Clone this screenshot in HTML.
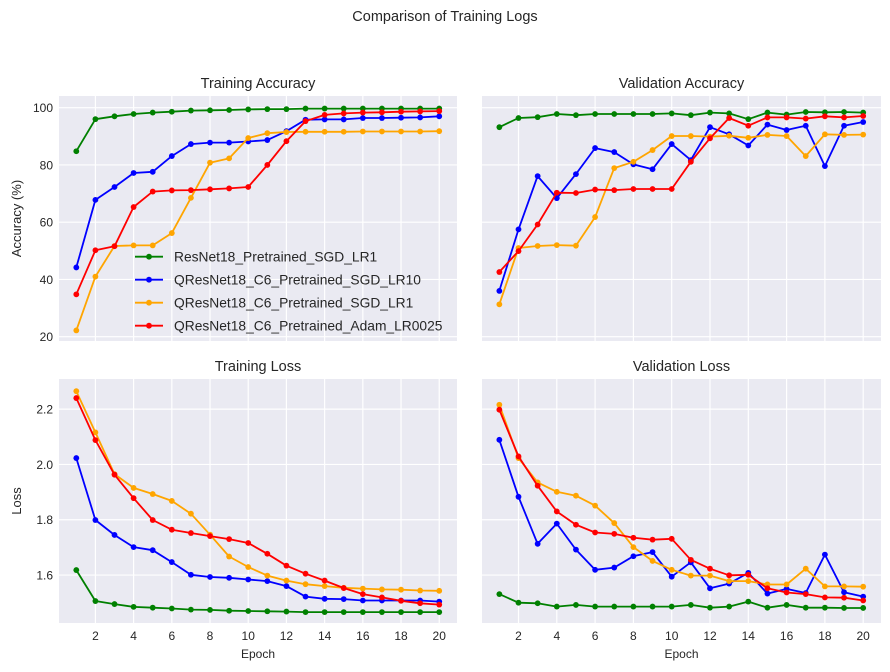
<!DOCTYPE html>
<html><head><meta charset="utf-8"><style>
body{margin:0;background:#fff;}
svg{display:block;font-family:"Liberation Sans","DejaVu Sans",sans-serif;}
</style></head><body>
<svg id="fig" width="890" height="672" viewBox="0 0 890 672">
<text x="445" y="21" text-anchor="middle" font-size="14.5" fill="#262626">Comparison of Training Logs</text>
</svg>
<script>
const epochs=[1,2,3,4,5,6,7,8,9,10,11,12,13,14,15,16,17,18,19,20];
const seriesNames=["ResNet18_Pretrained_SGD_LR1","QResNet18_C6_Pretrained_SGD_LR10","QResNet18_C6_Pretrained_SGD_LR1","QResNet18_C6_Pretrained_Adam_LR0025"];
const seriesColors=["green","blue","orange","red"];
const trainAccGreen=[84.8,96,97,97.8,98.3,98.6,99,99.1,99.2,99.4,99.5,99.5,99.7,99.7,99.7,99.7,99.7,99.7,99.7,99.7];
const trainAccBlue=[44.2,67.8,72.3,77.2,77.6,83.1,87.3,87.8,87.8,88.2,88.7,91.8,95.8,95.9,95.9,96.4,96.4,96.5,96.6,97];
const trainAccOrange=[22.2,41,51.7,51.9,51.9,56.2,68.5,80.8,82.3,89.4,91.1,91.5,91.6,91.6,91.6,91.7,91.7,91.7,91.7,91.8];
const trainAccRed=[34.8,50.2,51.6,65.3,70.7,71.1,71.2,71.5,71.8,72.3,80,88.3,95.3,97.5,98,98.3,98.4,98.6,98.7,98.8];
const valAccGreen=[93.2,96.4,96.7,97.8,97.4,97.8,97.8,97.8,97.8,98,97.4,98.3,98,96,98.3,97.6,98.5,98.4,98.5,98.3];
const valAccBlue=[36,57.5,76.1,68.4,76.8,85.9,84.5,80.2,78.5,87.3,81.7,93.2,90.7,86.8,94.1,92.2,93.7,79.6,93.7,95];
const valAccOrange=[31.3,51,51.7,52,51.8,61.8,78.9,81.1,85.2,90.1,90.1,89.9,90.2,89.5,90.5,90.1,83.1,90.7,90.5,90.6];
const valAccRed=[42.6,49.9,59.2,70.3,70.2,71.4,71.2,71.6,71.6,71.6,81.1,89.3,96.4,93.7,96.6,96.6,96.2,97,96.6,97.1];
const trainLossGreen=[1.618,1.506,1.495,1.485,1.482,1.479,1.475,1.474,1.471,1.470,1.469,1.468,1.466,1.466,1.466,1.466,1.466,1.466,1.466,1.466];
const trainLossBlue=[2.023,1.799,1.745,1.701,1.690,1.647,1.601,1.593,1.590,1.584,1.578,1.560,1.522,1.514,1.513,1.508,1.508,1.508,1.508,1.504];
const trainLossOrange=[2.265,2.116,1.965,1.915,1.893,1.868,1.822,1.746,1.667,1.629,1.598,1.580,1.567,1.560,1.554,1.551,1.548,1.547,1.544,1.543];
const trainLossRed=[2.24,2.088,1.963,1.878,1.799,1.764,1.752,1.741,1.730,1.716,1.677,1.634,1.605,1.580,1.553,1.531,1.519,1.507,1.498,1.493];
const valLossGreen=[1.531,1.500,1.498,1.486,1.492,1.486,1.486,1.486,1.486,1.486,1.492,1.482,1.486,1.504,1.482,1.492,1.482,1.482,1.481,1.481];
const valLossBlue=[2.089,1.883,1.713,1.786,1.692,1.619,1.627,1.668,1.683,1.594,1.646,1.552,1.569,1.608,1.533,1.550,1.535,1.674,1.538,1.522];
const valLossOrange=[2.216,2.023,1.935,1.901,1.887,1.851,1.788,1.701,1.651,1.619,1.598,1.598,1.578,1.578,1.566,1.566,1.623,1.559,1.559,1.558];
const valLossRed=[2.198,2.029,1.923,1.830,1.782,1.754,1.749,1.735,1.728,1.731,1.655,1.623,1.599,1.601,1.552,1.537,1.531,1.519,1.518,1.508];
const accTicks=[20,40,60,80,100];
const lossTicks=[1.6,1.8,2.0,2.2];
const epochTicks=[2,4,6,8,10,12,14,16,18,20];

const NS="http://www.w3.org/2000/svg";
const svg=document.getElementById('fig');
function mk(tag,attrs,parent){const e=document.createElementNS(NS,tag);for(const k in attrs)e.setAttribute(k,attrs[k]);(parent||svg).appendChild(e);return e;}

const panels=[
 {key:'training-accuracy',title:'Training Accuracy',x0:59,x1:457,y0:96,y1:341,ymin:18.5,ymax:104.09,ticks:accTicks,dec:0,showY:true,showX:false,ylabel:'Accuracy (%)',data:[trainAccGreen,trainAccBlue,trainAccOrange,trainAccRed]},
 {key:'validation-accuracy',title:'Validation Accuracy',x0:482,x1:881,y0:96,y1:341,ymin:18.5,ymax:104.09,ticks:accTicks,dec:0,showY:false,showX:false,data:[valAccGreen,valAccBlue,valAccOrange,valAccRed]},
 {key:'training-loss',title:'Training Loss',x0:59,x1:457,y0:379,y1:623,ymin:1.4266,ymax:2.309,ticks:lossTicks,dec:1,showY:true,showX:true,ylabel:'Loss',data:[trainLossGreen,trainLossBlue,trainLossOrange,trainLossRed]},
 {key:'validation-loss',title:'Validation Loss',x0:482,x1:881,y0:379,y1:623,ymin:1.4266,ymax:2.309,ticks:lossTicks,dec:1,showY:false,showX:true,data:[valLossGreen,valLossBlue,valLossOrange,valLossRed]}
];
panels.forEach(p=>{
 const g=mk('g',{});
 
 
 const xs=v=>p.x0+(v-0.094)/(20.93-0.094)*(p.x1-p.x0);
 const ys=v=>p.y1-(v-p.ymin)/(p.ymax-p.ymin)*(p.y1-p.y0);
 const bg=mk('rect',{x:p.x0,y:p.y0,width:p.x1-p.x0,height:p.y1-p.y0,fill:'#eaeaf2'},g);
 
 
 epochTicks.forEach(t=>{
  const x=xs(t);
  mk('line',{x1:x,x2:x,y1:p.y0,y2:p.y1,stroke:'#fff','stroke-width':1.2},g);
  if(p.showX){const tx=mk('text',{x:x,y:p.y1+17,'text-anchor':'middle','font-size':12,fill:'#262626'},g);tx.textContent=t;
   }
 });
 p.ticks.forEach(t=>{
  const y=ys(t);
  mk('line',{x1:p.x0,x2:p.x1,y1:y,y2:y,stroke:'#fff','stroke-width':1.2},g);
  if(p.showY){const tx=mk('text',{x:p.x0-6,y:y+4.5,'text-anchor':'end','font-size':12,fill:'#262626'},g);tx.textContent=t.toFixed(p.dec);
   }
 });
 const tt=mk('text',{x:(p.x0+p.x1)/2,y:p.y0-8,'text-anchor':'middle','font-size':14.5,fill:'#262626'},g);
 tt.textContent=p.title;
 
 
 if(p.ylabel){const cy=(p.y0+p.y1)/2;const yl=mk('text',{x:0,y:0,transform:`translate(21,${cy}) rotate(-90)`,'text-anchor':'middle','font-size':13,fill:'#262626'},g);yl.textContent=p.ylabel;
  }
 if(p.showX){const xl=mk('text',{x:(p.x0+p.x1)/2,y:p.y1+35,'text-anchor':'middle','font-size':12,fill:'#262626'},g);xl.textContent='Epoch';
  }
 p.data.forEach((arr,si)=>{
  const pts=arr.map((v,i)=>xs(epochs[i]).toFixed(1)+','+ys(v).toFixed(1)).join(' ');
  const pl=mk('polyline',{points:pts,fill:'none',stroke:seriesColors[si],'stroke-width':1.8,'stroke-linejoin':'round'},g);
  
  
  arr.forEach((v,i)=>{const c=mk('circle',{cx:xs(epochs[i]),cy:ys(v),r:2.9,fill:seriesColors[si]},g);
   
   });
 });
});
// legend
const lg=mk('g',{});


seriesNames.forEach((n,i)=>{
 const y=256.7+i*23;
 const e=mk('g',{},lg);
 
 
 mk('line',{x1:135,x2:163,y1:y,y2:y,stroke:seriesColors[i],'stroke-width':1.8},e);
 mk('circle',{cx:149,cy:y,r:2.9,fill:seriesColors[i]},e);
 const t=mk('text',{x:174,y:y+5,'font-size':13.8,fill:'#262626'},e);t.textContent=n;
});
</script>
</body></html>
